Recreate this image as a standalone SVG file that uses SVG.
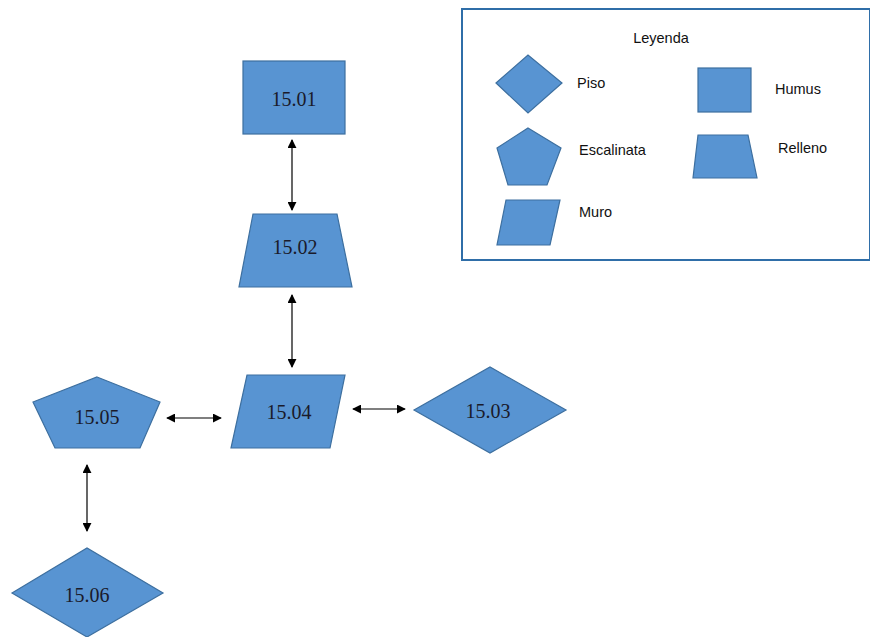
<svg xmlns="http://www.w3.org/2000/svg" width="870" height="637" viewBox="0 0 870 637">
<defs>
<marker id="ah" viewBox="0 0 10 10" refX="9" refY="5" markerWidth="9" markerHeight="9" markerUnits="userSpaceOnUse" orient="auto-start-reverse">
<path d="M0,0 L10,5 L0,10 z" fill="#000"/>
</marker>
<style>
.s{fill:#5894d2;stroke:#3d6f9f;stroke-width:1.2}
.t{font-family:"Liberation Serif","Times New Roman",serif;font-size:20px;fill:#1a1a2a;text-anchor:middle}
.l{font-family:"Liberation Sans",Arial,sans-serif;font-size:14.5px;fill:#111}
.c{stroke:#000;stroke-width:1.2;fill:none;marker-start:url(#ah);marker-end:url(#ah)}
</style>
</defs>
<rect width="870" height="637" fill="#fff"/>
<g id="legend">
<rect x="462" y="9" width="408" height="251" fill="#fff" stroke="#2f6ea8" stroke-width="2"/>
<text class="l" x="661" y="43" text-anchor="middle">Leyenda</text>
<polygon class="s" points="496,83 528,55 562,83 528,113"/>
<text class="l" x="577" y="88">Piso</text>
<rect class="s" x="698" y="68" width="53" height="44"/>
<text class="l" x="775" y="94">Humus</text>
<polygon class="s" points="528,128 561,148 547,185 508,185 497,148"/>
<text class="l" x="579" y="155">Escalinata</text>
<polygon class="s" points="698,135 748,135 757,178 693,178"/>
<text class="l" x="778" y="153">Relleno</text>
<polygon class="s" points="506,200 560,200 550,245 497,245"/>
<text class="l" x="579" y="217">Muro</text>
</g>
<g id="n1501">
<rect class="s" x="243" y="61" width="102" height="73"/>
<text class="t" x="294" y="106">15.01</text>
</g>
<g id="n1502">
<polygon class="s" points="253,214 337,214 352,287 239,287"/>
<text class="t" x="295" y="254">15.02</text>
</g>
<g id="n1504">
<polygon class="s" points="247,375 345,375 330,448 231,448"/>
<text class="t" x="289" y="419">15.04</text>
</g>
<g id="n1503">
<polygon class="s" points="414,410 490,367 566,410 490,453"/>
<text class="t" x="488" y="418">15.03</text>
</g>
<g id="n1505">
<polygon class="s" points="97,377 160,402 140,448 55,448 33,402"/>
<text class="t" x="97" y="424">15.05</text>
</g>
<g id="n1506">
<polygon class="s" points="12,593 87,548 163,593 87,637"/>
<text class="t" x="87" y="602">15.06</text>
</g>
<g id="connectors">
<line class="c" x1="292" y1="140" x2="292" y2="210"/>
<line class="c" x1="292" y1="295" x2="292" y2="367"/>
<line class="c" x1="353" y1="409" x2="405" y2="409"/>
<line class="c" x1="167" y1="418" x2="221" y2="418"/>
<line class="c" x1="87" y1="465" x2="87" y2="531"/>
</g>
</svg>
